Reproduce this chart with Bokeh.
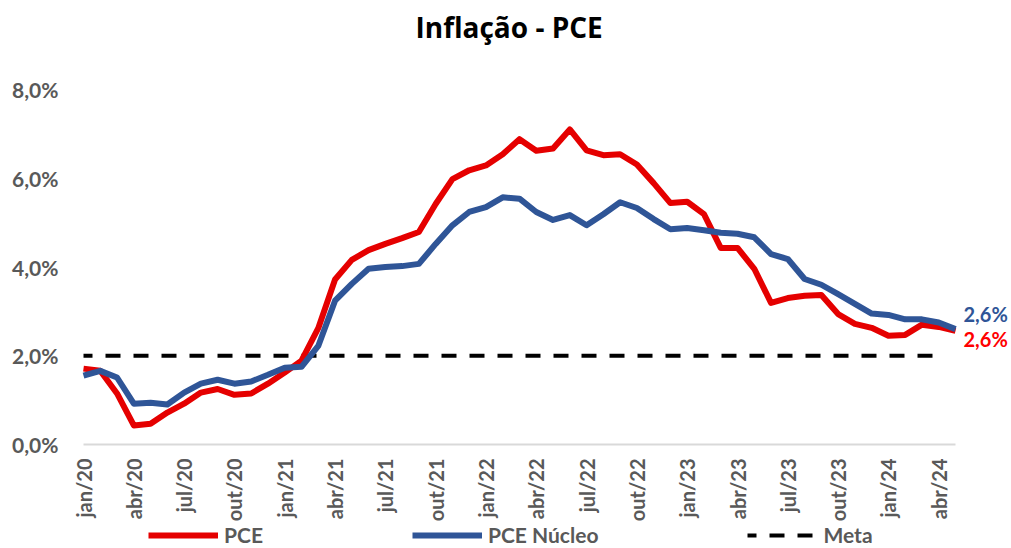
import math
from bokeh.plotting import figure
from bokeh.models import FixedTicker, Range1d, Legend, LegendItem, Label
from bokeh.embed import file_html
from bokeh.resources import INLINE

# ---------------- data ----------------
months = [
    "jan/20", "fev/20", "mar/20", "abr/20", "mai/20", "jun/20", "jul/20", "ago/20", "set/20", "out/20", "nov/20", "dez/20",
    "jan/21", "fev/21", "mar/21", "abr/21", "mai/21", "jun/21", "jul/21", "ago/21", "set/21", "out/21", "nov/21", "dez/21",
    "jan/22", "fev/22", "mar/22", "abr/22", "mai/22", "jun/22", "jul/22", "ago/22", "set/22", "out/22", "nov/22", "dez/22",
    "jan/23", "fev/23", "mar/23", "abr/23", "mai/23", "jun/23", "jul/23", "ago/23", "set/23", "out/23", "nov/23", "dez/23",
    "jan/24", "fev/24", "mar/24", "abr/24", "mai/24",
]

pce = [
    1.71, 1.66, 1.15, 0.43, 0.47, 0.72, 0.92, 1.17, 1.25, 1.12, 1.15, 1.37,
    1.62, 1.89, 2.62, 3.72, 4.16, 4.38, 4.52, 4.65, 4.79, 5.42, 5.98, 6.18,
    6.29, 6.54, 6.88, 6.62, 6.67, 7.10, 6.63, 6.52, 6.54, 6.31, 5.89, 5.44,
    5.47, 5.19, 4.43, 4.43, 3.96, 3.19, 3.30, 3.35, 3.37, 2.94, 2.72, 2.63,
    2.45, 2.47, 2.70, 2.65, 2.56,
]

pce_nucleo = [
    1.55, 1.66, 1.51, 0.92, 0.94, 0.90, 1.17, 1.37, 1.46, 1.37, 1.42, 1.57,
    1.73, 1.75, 2.22, 3.24, 3.62, 3.96, 4.00, 4.02, 4.07, 4.52, 4.94, 5.24,
    5.35, 5.57, 5.54, 5.24, 5.06, 5.17, 4.94, 5.19, 5.46, 5.33, 5.08, 4.85,
    4.88, 4.83, 4.77, 4.75, 4.67, 4.29, 4.18, 3.73, 3.60, 3.39, 3.17, 2.95,
    2.92, 2.82, 2.82, 2.75, 2.60,
]

meta_value = 2.0
meta_months = months[:-1]  # meta drawn jan/20 .. abr/24

y_ticks = [0, 2, 4, 6, 8]
y_tick_labels = ["0,0%", "2,0%", "4,0%", "6,0%", "8,0%"]
x_tick_step = 3

# ---------------- styles / layout ----------------
RED = "#E50000"
RED_LABEL = "#FF0000"
BLUE = "#2F5597"
GRAY = "#595959"
FONT = "Lato"

W, H = 1011, 548
FRAME_LEFT, TOP = 68, 50      # frame offsets inside the canvas
X0_PX, X_LAST_PX = 83, 955    # canvas px of first and last month
Y0_PX, Y8_PX = 444, 89        # canvas px of 0% and 8%

n_last = len(months) - 1
px_per_x = (X_LAST_PX - X0_PX) / n_last
px_per_y = (Y0_PX - Y8_PX) / 8.0
x_start = -(X0_PX - FRAME_LEFT) / px_per_x
x_end = (W - X0_PX) / px_per_x
y_top = 8 + (Y8_PX - TOP) / px_per_y
y_bottom = -(H - Y0_PX) / px_per_y

x_idx = list(range(len(months)))
meta_idx = list(range(len(meta_months)))
meta = [meta_value for _ in meta_idx]

p = figure(
    width=W, height=H,
    x_range=Range1d(x_start, x_end),
    y_range=Range1d(y_bottom, y_top),
    output_backend="svg", toolbar_location=None,
    min_border_left=FRAME_LEFT, min_border_right=0,
    min_border_top=TOP, min_border_bottom=0,
)

p.title.text = "Inflação - PCE"
p.title.align = "left"
p.title.offset = 415 - FRAME_LEFT
p.title.text_font = "Open Sans"
p.title.text_font_size = "28px"
p.title.text_font_style = "bold"
p.title.text_color = "#000000"

p.xgrid.visible = False
p.ygrid.visible = False
p.outline_line_color = None
p.background_fill_color = "white"
p.border_fill_color = "white"

r_meta = p.line(meta_idx, meta, line_color="black", line_width=4,
                line_dash="15 13", line_dash_offset=6)
r_pce = p.line(x_idx, pce, line_color=RED, line_width=6, line_join="round")
r_core = p.line(x_idx, pce_nucleo, line_color=BLUE, line_width=6, line_join="round")

# x axis, drawn at 0%
ticks_x = list(range(0, len(months), x_tick_step))
p.xaxis.fixed_location = 0
p.xaxis.bounds = (0, n_last)
p.xaxis.ticker = FixedTicker(ticks=ticks_x)
p.xaxis.major_label_overrides = {i: months[i] for i in ticks_x}
p.xaxis.major_label_orientation = math.pi / 2
p.xaxis.axis_line_color = "#D9D9D9"
p.xaxis.axis_line_width = 2
p.xaxis.major_tick_line_color = None
p.xaxis.minor_tick_line_color = None
p.xaxis.major_tick_out = 0
p.xaxis.major_label_standoff = 14
p.xaxis.major_label_text_font = FONT
p.xaxis.major_label_text_font_style = "bold"
p.xaxis.major_label_text_font_size = "20px"
p.xaxis.major_label_text_color = GRAY

# y axis
p.yaxis.ticker = FixedTicker(ticks=y_ticks)
p.yaxis.major_label_overrides = {t: l for t, l in zip(y_ticks, y_tick_labels)}
p.yaxis.axis_line_color = None
p.yaxis.major_tick_line_color = None
p.yaxis.minor_tick_line_color = None
p.yaxis.major_tick_out = 0
p.yaxis.major_label_standoff = 10
p.yaxis.major_label_text_font = FONT
p.yaxis.major_label_text_font_style = "bold"
p.yaxis.major_label_text_font_size = "21px"
p.yaxis.major_label_text_color = GRAY

# end labels
def fmt(v):
    return f"{v:.1f}%".replace(".", ",")

p.add_layout(Label(x=n_last, y=pce_nucleo[-1], text=fmt(pce_nucleo[-1]),
                   x_offset=8, y_offset=15, text_baseline="middle",
                   text_font=FONT, text_font_style="bold", text_font_size="20px",
                   text_color=BLUE))
p.add_layout(Label(x=n_last, y=pce[-1], text=fmt(pce[-1]),
                   x_offset=8, y_offset=-8, text_baseline="middle",
                   text_font=FONT, text_font_style="bold", text_font_size="20px",
                   text_color=RED_LABEL))

legend = Legend(
    items=[
        LegendItem(label="PCE", renderers=[r_pce]),
        LegendItem(label="PCE Núcleo", renderers=[r_core]),
        LegendItem(label="Meta", renderers=[r_meta]),
    ],
    location=(148 - FRAME_LEFT, 1), orientation="horizontal",
    spacing=149, glyph_width=70, glyph_height=20, label_standoff=6,
    padding=0, margin=0, border_line_color=None, background_fill_alpha=0,
    label_text_font=FONT, label_text_font_style="bold",
    label_text_font_size="21px", label_text_color=GRAY,
)
p.add_layout(legend)

open("out.html", "w").write(file_html(p, INLINE))
